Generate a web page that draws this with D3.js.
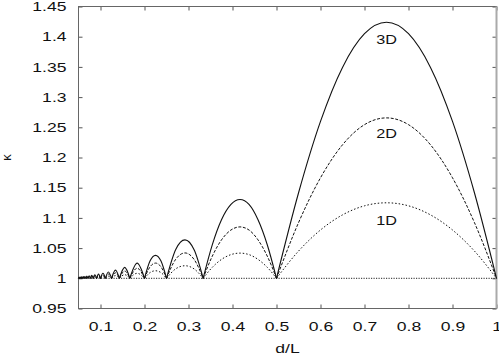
<!DOCTYPE html>
<html>
<head>
<meta charset="utf-8">
<script src="https://cdn.jsdelivr.net/npm/d3@7"></script>
<style>
body { margin: 0; background: #fff; }
svg { display: block; font-family: "Liberation Sans", Arial, sans-serif; }
</style>
</head>
<body>
<div id="chart"></div>
<script>
// d/L sample points (nodes where every curve touches 1, plus points inside each arch)
var dL = [0.05, 0.0513, 0.0526, 0.0541, 0.0556, 0.0572, 0.0588, 0.0607, 0.0625, 0.0646,
  0.0667, 0.069, 0.0714, 0.0742, 0.0769, 0.0801, 0.0833, 0.0871, 0.0909, 0.0955,
  0.1, 0.1056, 0.1111, 0.118, 0.125, 0.134, 0.1429, 0.155, 0.1667, 0.1833,
  0.2, 0.2125, 0.225, 0.2375, 0.25, 0.271, 0.292, 0.313, 0.3333,
  0.354, 0.375, 0.396, 0.417, 0.438, 0.458, 0.479, 0.5,
  0.55, 0.6, 0.65, 0.7, 0.75, 0.8, 0.85, 0.9, 0.95, 1.0];

var k1D = [1, 1.0007, 1, 1.0007, 1, 1.0008, 1, 1.0009, 1, 1.001,
  1, 1.0012, 1, 1.0014, 1, 1.0016, 1, 1.0019, 1, 1.0023,
  1, 1.0028, 1, 1.0035, 1, 1.0045, 1, 1.006, 1, 1.0083,
  1, 1.0094, 1.0125, 1.0094, 1, 1.0157, 1.0208, 1.0154, 1,
  1.0181, 1.0313, 1.0391, 1.0417, 1.0391, 1.0313, 1.0182, 1,
  1.045, 1.08, 1.105, 1.12, 1.125, 1.12, 1.105, 1.08, 1.045, 1];

var k2D = [1, 1.0014, 1, 1.0014, 1, 1.0016, 1, 1.0018, 1, 1.002,
  1, 1.0024, 1, 1.0028, 1, 1.0032, 1, 1.0038, 1, 1.0046,
  1, 1.0056, 1, 1.007, 1, 1.009, 1, 1.012, 1, 1.0167,
  1, 1.0189, 1.0252, 1.0189, 1, 1.0316, 1.042, 1.031, 1,
  1.0365, 1.0636, 1.0797, 1.0851, 1.0797, 1.0636, 1.0367, 1,
  1.092, 1.1664, 1.221, 1.2544, 1.2656, 1.2544, 1.221, 1.1664, 1.092, 1];

var k3D = [1, 1.0021, 1, 1.0021, 1, 1.0024, 1, 1.0027, 1, 1.003,
  1, 1.0036, 1, 1.0042, 1, 1.0048, 1, 1.0057, 1, 1.0069,
  1, 1.0084, 1, 1.0105, 1, 1.0136, 1, 1.0181, 1, 1.0251,
  1, 1.0285, 1.038, 1.0285, 1, 1.0478, 1.0637, 1.0469, 1,
  1.0553, 1.0969, 1.1219, 1.1304, 1.1219, 1.0969, 1.0556, 1,
  1.1412, 1.2597, 1.3492, 1.4049, 1.4238, 1.4049, 1.3492, 1.2597, 1.1412, 1];

var seriesNames = ["1D", "2D", "3D"];
var seriesValues = [k1D, k2D, k3D];
var labelAt = [[0.75, 1.096], [0.75, 1.239], [0.75, 1.395]];

var xTicks = [0.1, 0.2, 0.3, 0.4, 0.5, 0.6, 0.7, 0.8, 0.9, 1];
var xTickLabels = ["0.1", "0.2", "0.3", "0.4", "0.5", "0.6", "0.7", "0.8", "0.9", "1"];
var yTicks = [0.95, 1, 1.05, 1.1, 1.15, 1.2, 1.25, 1.3, 1.35, 1.4, 1.45];
var yTickLabels = ["0.95", "1", "1.05", "1.1", "1.15", "1.2", "1.25", "1.3", "1.35", "1.4", "1.45"];

var width = 499, height = 361;
var plotLeft = 78.5, plotRight = 496.5, plotTop = 6.5, plotBottom = 308.5;
var stretch = 1.35;

var svg = d3.select("#chart").append("svg")
  .attr("width", width)
  .attr("height", height);

var x = d3.scaleLinear().domain([0.05, 1]).range([plotLeft, plotRight]);
var y = d3.scaleLinear().domain([0.95, 1.45]).range([plotBottom, plotTop]);

var dashes = { "1D": "1.5,2", "2D": "3,1.6", "3D": null };

// axes, ticks pointing inward
svg.append("g")
  .attr("transform", "translate(0," + plotBottom + ")")
  .call(d3.axisBottom(x).tickValues(xTicks)
    .tickFormat(function (d, i) { return xTickLabels[i]; })
    .tickSizeInner(-4).tickSizeOuter(0).tickPadding(13));

svg.append("g")
  .attr("transform", "translate(" + plotLeft + ",0)")
  .call(d3.axisLeft(y).tickValues(yTicks)
    .tickFormat(function (d, i) { return yTickLabels[i]; })
    .tickSizeInner(-4).tickSizeOuter(0).tickPadding(12));

svg.append("g")
  .attr("transform", "translate(0," + plotTop + ")")
  .call(d3.axisTop(x).tickValues(xTicks).tickFormat("")
    .tickSizeInner(-4).tickSizeOuter(0));

svg.append("g")
  .attr("transform", "translate(" + plotRight + ",0)")
  .call(d3.axisRight(y).tickValues(yTicks).tickFormat("")
    .tickSizeInner(-4).tickSizeOuter(0));

svg.selectAll(".domain").remove();
svg.selectAll(".tick line").attr("stroke", "#555");
svg.selectAll(".tick text")
  .attr("fill", "#111")
  .style("font-size", "13px")
  .style("font-family", "'Liberation Sans', Arial, sans-serif");

// frame
svg.append("rect")
  .attr("x", plotLeft).attr("y", plotTop)
  .attr("width", plotRight - plotLeft).attr("height", plotBottom - plotTop)
  .attr("fill", "none")
  .attr("stroke", "#666")
  .attr("stroke-width", 1);

svg.append("line")
  .attr("x1", plotRight).attr("x2", plotRight)
  .attr("y1", plotTop).attr("y2", plotBottom)
  .attr("stroke", "#aaa").attr("stroke-width", 2);

// baseline at kappa = 1
svg.append("line")
  .attr("x1", x(0.05)).attr("x2", x(1))
  .attr("y1", y(1)).attr("y2", y(1))
  .attr("stroke", "#222")
  .attr("stroke-width", 1)
  .attr("stroke-dasharray", "1.2,1.3");

// split a series into arches between the touching points
function arches(vals) {
  var out = [], cur = [0];
  for (var i = 1; i < vals.length; i++) {
    cur.push(i);
    if (vals[i] === 1) { out.push(cur); cur = [i]; }
  }
  return out;
}

var line = d3.line()
  .x(function (i) { return x(dL[i]); })
  .curve(d3.curveMonotoneX);

var curves = svg.append("g").attr("class", "curves");

seriesNames.forEach(function (name, s) {
  var vals = seriesValues[s];
  line.y(function (i) { return y(vals[i]); });
  curves.selectAll("path.s" + s)
    .data(arches(vals))
    .enter()
    .append("path")
    .attr("class", "s" + s)
    .attr("d", line)
    .attr("fill", "none")
    .attr("stroke", "#111")
    .attr("stroke-width", name === "3D" ? 1.1 : 1)
    .attr("stroke-dasharray", dashes[name]);
});

svg.append("g").selectAll("text")
  .data(seriesNames)
  .enter()
  .append("text")
  .attr("x", function (d, i) { return x(labelAt[i][0]); })
  .attr("y", function (d, i) { return y(labelAt[i][1]); })
  .attr("dy", "0.35em")
  .attr("text-anchor", "middle")
  .attr("fill", "#111")
  .style("font-size", "12px")
  .text(function (d) { return d; });

svg.append("text")
  .attr("x", (plotLeft + plotRight) / 2)
  .attr("y", 348)
  .attr("dy", "0.35em")
  .attr("text-anchor", "middle")
  .attr("fill", "#111")
  .style("font-size", "13px")
  .text("d/L");

svg.append("text")
  .attr("transform", "translate(6," + (plotTop + plotBottom) / 2 + ") rotate(-90)")
  .attr("dy", "0.35em")
  .attr("text-anchor", "middle")
  .attr("fill", "#111")
  .style("font-size", "13px")
  .text("κ");

// the reference text is drawn wider than the font: stretch it
svg.selectAll("text").each(function () {
  var t = d3.select(this);
  if (t.text() === "κ") return;
  var w = this.getComputedTextLength();
  t.attr("textLength", w * stretch).attr("lengthAdjust", "spacingAndGlyphs");
});
</script>
</body>
</html>
